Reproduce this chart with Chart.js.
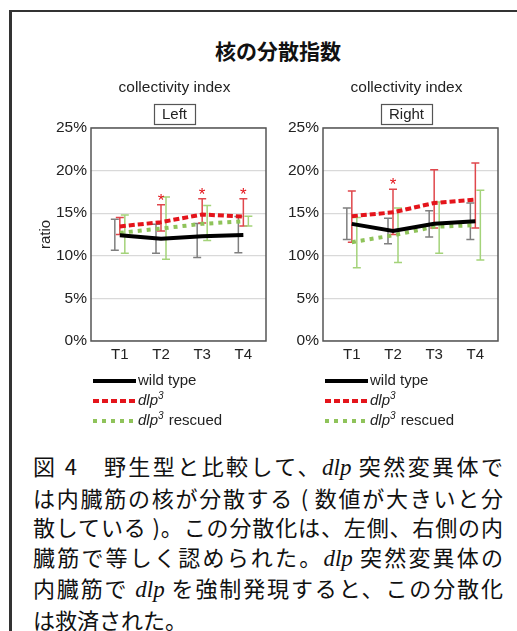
<!DOCTYPE html>
<html>
<head>
<meta charset="utf-8">
<script src="https://cdn.jsdelivr.net/npm/chart.js@4.4.0/dist/chart.umd.min.js"></script>
<style>
    body { margin: 0; width: 517px; height: 631px; background: #fff; overflow: hidden; position: relative; }
    #frame { position: absolute; left: 9px; top: 10px; width: 600px; height: 700px; border-left: 3px solid #333; border-top: 2px solid #333; }
    #title { position: absolute; top: 35px; left: 0; width: 556px; text-align: center; font: bold 21px "Noto Sans CJK JP"; color: #111; }
    canvas { position: absolute; top: 60px; }
    #cLeft { left: 20px; }
    #cRight { left: 272px; }
    #caption { position: absolute; left: 33px; top: 451px; width: 470px; font: 22px "Noto Sans CJK JP"; line-height: 29.6px; color: #111; }
    #caption div { white-space: nowrap; text-align: justify; text-align-last: justify; }
    #caption div.last { text-align-last: left; }
    .g { font-family: "Liberation Serif", "DejaVu Serif", serif; font-style: italic; font-size: 23px; }
</style>
</head>
<body>
<div id="frame"></div>
<div id="title">核の分散指数</div>
<canvas id="cLeft" width="250" height="380"></canvas>
<canvas id="cRight" width="238" height="380"></canvas>
<div id="caption">
    <div>図 4　野生型と比較して、<span class="g">dlp</span> 突然変異体で</div>
    <div>は内臓筋の核が分散する ( 数値が大きいと分</div>
    <div>散している )。この分散化は、左側、右側の内</div>
    <div>臓筋で等しく認められた。<span class="g">dlp</span> 突然変異体の</div>
    <div>内臓筋で <span class="g">dlp</span> を強制発現すると、この分散化</div>
    <div class="last">は救済された。</div>
</div>
<script>
// time points
const timeLabels = ['T1', 'T2', 'T3', 'T4'];
const seriesNames = ['wild type', 'dlp3', 'dlp3 rescued'];

// Left side (values in %)
const leftWild      = [12.4, 12.0, 12.3, 12.45];
const leftWildLow   = [10.65, 10.3, 9.8, 10.35];
const leftWildHigh  = [14.3, 13.7, 13.8, 14.6];
const leftDlp       = [13.45, 13.95, 14.85, 14.6];
const leftDlpLow    = [12.5, 12.9, 13.85, 13.5];
const leftDlpHigh   = [14.5, 16.0, 16.7, 16.7];
const leftResc      = [12.7, 13.2, 13.75, 14.05];
const leftRescLow   = [10.3, 9.6, 11.8, 13.5];
const leftRescHigh  = [14.8, 16.9, 15.9, 14.65];
const leftSignif    = [false, true, true, true];

// Right side (values in %)
const rightWild     = [13.75, 12.9, 13.75, 14.05];
const rightWildLow  = [11.9, 11.4, 12.2, 11.9];
const rightWildHigh = [15.6, 14.4, 15.3, 16.2];
const rightDlp      = [14.65, 15.1, 16.2, 16.6];
const rightDlpLow   = [11.6, 12.5, 13.25, 13.25];
const rightDlpHigh  = [17.6, 17.8, 20.1, 20.9];
const rightResc     = [11.6, 12.4, 13.4, 13.6];
const rightRescLow  = [8.6, 9.2, 10.3, 9.5];
const rightRescHigh = [14.5, 15.6, 16.3, 17.7];
const rightSignif   = [false, true, false, false];

const yTicks = [0, 5, 10, 15, 20, 25];

const FONT = '"Liberation Sans", Arial, sans-serif';
const colors = {
    wild: '#000000', wildErr: '#7f7f7f',
    dlp: '#e4141b', dlpErr: '#e0474c',
    resc: '#8fc35a', rescErr: '#a4d37a'
};

function points(values) {
    return values.map((v, i) => ({ x: i + 1, y: v }));
}

// draws the frame, error bars, asterisks, panel titles and legend
const decorPlugin = {
    id: 'decor',
    beforeDatasetsDraw(chart) {
        const ctx = chart.ctx;
        const xs = chart.scales.x, ys = chart.scales.y;
        ctx.save();
        chart.data.datasets.forEach(ds => {
            ctx.strokeStyle = ds.errColor;
            ctx.lineWidth = 1.5;
            ds.data.forEach((p, j) => {
                const x = xs.getPixelForValue(p.x) + ds.errOffset;
                const yLo = ys.getPixelForValue(ds.errLow[j]);
                const yHi = ys.getPixelForValue(ds.errHigh[j]);
                ctx.beginPath();
                ctx.moveTo(x, yLo); ctx.lineTo(x, yHi);
                ctx.moveTo(x - 4, yLo); ctx.lineTo(x + 4, yLo);
                ctx.moveTo(x - 4, yHi); ctx.lineTo(x + 4, yHi);
                ctx.stroke();
            });
        });
        ctx.restore();
    },
    afterDraw(chart, args, opts) {
        const ctx = chart.ctx;
        const area = chart.chartArea;
        const xs = chart.scales.x, ys = chart.scales.y;
        ctx.save();

        // plot box
        ctx.strokeStyle = '#555';
        ctx.lineWidth = 1.5;
        ctx.strokeRect(area.left, area.top, area.right - area.left, area.bottom - area.top);

        // significance marks above the dlp3 error bars
        const dlpSet = chart.data.datasets[1];
        ctx.fillStyle = colors.dlp;
        ctx.font = '17px ' + FONT;
        ctx.textAlign = 'center';
        ctx.textBaseline = 'alphabetic';
        opts.signif.forEach((s, j) => {
            if (!s) return;
            const x = xs.getPixelForValue(j + 1) + dlpSet.errOffset;
            const y = ys.getPixelForValue(dlpSet.errHigh[j]);
            ctx.fillText('*', x, y + 1);
        });

        // panel headings
        const cx = (area.left + area.right) / 2 - 4;
        ctx.fillStyle = '#222';
        ctx.font = '15.5px ' + FONT;
        ctx.textBaseline = 'middle';
        ctx.fillText('collectivity index', cx, 28);
        ctx.font = '15px ' + FONT;
        const w = ctx.measureText(opts.side).width + 16;
        ctx.fillText(opts.side, cx, 55);
        ctx.strokeStyle = '#555';
        ctx.lineWidth = 1.2;
        ctx.strokeRect(Math.round(cx - w / 2) + 0.5, 44.5, Math.round(w), 20);

        // legend
        const lx = area.left + 2, len = 43;
        const rows = [321, 341, 361];
        chart.data.datasets.forEach((ds, i) => {
            const y = rows[i];
            ctx.strokeStyle = ds.borderColor;
            ctx.lineWidth = 4;
            ctx.setLineDash(ds.borderDash || []);
            ctx.beginPath();
            ctx.moveTo(lx, y); ctx.lineTo(lx + len, y);
            ctx.stroke();
            ctx.setLineDash([]);
            ctx.fillStyle = '#222';
            ctx.textAlign = 'left';
            let tx = lx + len + 2;
            const name = seriesNames[i];
            if (name.startsWith('dlp3')) {
                ctx.font = 'italic 15px ' + FONT;
                ctx.fillText('dlp', tx, y);
                tx += ctx.measureText('dlp').width;
                ctx.font = 'italic 10px ' + FONT;
                ctx.fillText('3', tx, y - 5);
                tx += ctx.measureText('3').width + 1;
                ctx.font = '15px ' + FONT;
                ctx.fillText(name.slice(4), tx, y);
            } else {
                ctx.font = '15px ' + FONT;
                ctx.fillText(name, tx, y);
            }
        });
        ctx.restore();
    }
};

function makeChart(id, side, wild, wildLo, wildHi, dlp, dlpLo, dlpHi, resc, rescLo, rescHi, signif, padLeft, yAxisWidth, padRight, showTitle) {
    const ctx = document.getElementById(id).getContext('2d');
    return new Chart(ctx, {
        type: 'line',
        data: {
            datasets: [
                {
                    label: seriesNames[0], data: points(wild),
                    errLow: wildLo, errHigh: wildHi, errColor: colors.wildErr, errOffset: -5,
                    borderColor: colors.wild, borderWidth: 4, pointRadius: 0, tension: 0
                },
                {
                    label: seriesNames[1], data: points(dlp),
                    errLow: dlpLo, errHigh: dlpHi, errColor: colors.dlpErr, errOffset: 0,
                    borderColor: colors.dlp, borderWidth: 4, borderDash: [6, 3], pointRadius: 0, tension: 0
                },
                {
                    label: seriesNames[2], data: points(resc),
                    errLow: rescLo, errHigh: rescHi, errColor: colors.rescErr, errOffset: 5,
                    borderColor: colors.resc, borderWidth: 4, borderDash: [4, 5], pointRadius: 0, tension: 0
                }
            ]
        },
        options: {
            responsive: false,
            animation: false,
            devicePixelRatio: 1,
            layout: { padding: { left: padLeft, right: padRight, top: 68, bottom: 69 } },
            plugins: {
                legend: { display: false },
                tooltip: { enabled: false },
                decor: { side: side, signif: signif }
            },
            scales: {
                x: {
                    type: 'linear', min: 0.3, max: 4.55,
                    afterBuildTicks: axis => { axis.ticks = timeLabels.map((t, i) => ({ value: i + 1 })); },
                    afterFit: axis => { axis.height = 30; },
                    ticks: {
                        color: '#222', font: { family: FONT, size: 15 }, padding: 5,
                        callback: v => timeLabels[v - 1]
                    },
                    grid: { display: false, drawTicks: false, tickLength: 0 },
                    border: { display: false }
                },
                y: {
                    min: 0, max: 25,
                    afterBuildTicks: axis => { axis.ticks = yTicks.map(v => ({ value: v })); },
                    afterFit: axis => { axis.width = yAxisWidth; },
                    ticks: {
                        color: '#222', font: { family: FONT, size: 15.5 }, padding: 4,
                        callback: v => v + '%'
                    },
                    grid: { color: '#d9d9d9', lineWidth: 1.2, drawTicks: false },
                    border: { display: false },
                    title: { display: showTitle, text: 'ratio', color: '#222', font: { family: FONT, size: 15 }, padding: 0 }
                }
            }
        },
        plugins: [decorPlugin]
    });
}

makeChart('cLeft', 'Left', leftWild, leftWildLow, leftWildHigh, leftDlp, leftDlpLow, leftDlpHigh,
    leftResc, leftRescLow, leftRescHigh, leftSignif, 17, 54, 4, true);
makeChart('cRight', 'Right', rightWild, rightWildLow, rightWildHigh, rightDlp, rightDlpLow, rightDlpHigh,
    rightResc, rightRescLow, rightRescHigh, rightSignif, 0, 51, 12, false);
</script>
</body>
</html>
